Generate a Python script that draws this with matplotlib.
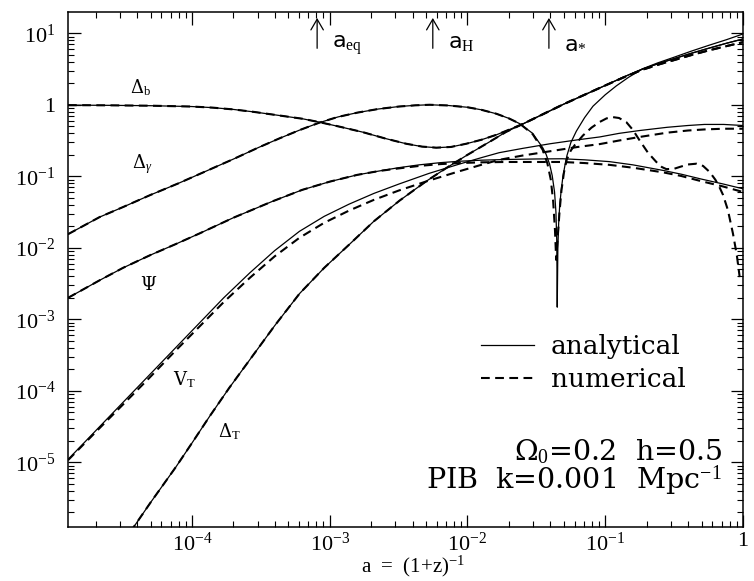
import matplotlib.pyplot as plt
import numpy as np
from matplotlib.ticker import FuncFormatter, LogLocator, NullFormatter

plt.rcParams["font.family"] = ["DejaVu Serif"]
plt.rcParams["mathtext.fontset"] = "custom"
plt.rcParams["mathtext.rm"] = "Liberation Serif"
plt.rcParams["mathtext.it"] = "Liberation Serif:italic"
plt.rcParams["mathtext.bf"] = "Liberation Serif:bold"

# values, as log10(a) and log10(quantity)
# Delta_b
db_la = [-4.90, -4.6, -4.3, -4.0, -3.85, -3.7, -3.55, -3.365, -3.2, -3.075,
         -2.92, -2.76, -2.6, -2.445, -2.33, -2.227, -2.12, -2.009, -1.9, -1.79,
         -1.7, -1.6, -1.45, -1.3, -1.15, -1.0, -0.87, -0.73, -0.6, -0.5,
         -0.375, -0.25, -0.12, 0.0]
db_ly = [-0.005, -0.008, -0.013, -0.025, -0.04, -0.065, -0.10, -0.15, -0.195, -0.243,
         -0.31, -0.383, -0.47, -0.545, -0.585, -0.60, -0.59, -0.545, -0.49, -0.42,
         -0.35, -0.27, -0.13, 0.01, 0.14, 0.27, 0.385, 0.50, 0.585, 0.645,
         0.72, 0.79, 0.86, 0.92]
db_num_ly = [-0.005, -0.008, -0.013, -0.025, -0.04, -0.065, -0.10, -0.15, -0.195, -0.243,
             -0.31, -0.383, -0.47, -0.545, -0.585, -0.60, -0.59, -0.545, -0.49, -0.42,
             -0.35, -0.27, -0.13, 0.01, 0.14, 0.27, 0.38, 0.49, 0.57, 0.625,
             0.695, 0.76, 0.82, 0.875]

# Delta_T (merges with Delta_b near a = 0.025)
dt_la = [-4.45, -4.3, -4.115, -4.0, -3.873, -3.73, -3.582, -3.4, -3.219, -3.04,
         -2.856, -2.68, -2.493, -2.30, -2.15, -2.0, -1.85, -1.72, -1.6, -1.45,
         -1.3, -1.15, -1.0, -0.87, -0.73, -0.6, -0.5, -0.375, -0.25, -0.12, 0.0]
dt_ly = [-5.98, -5.56, -5.06, -4.73, -4.36, -3.96, -3.57, -3.09, -2.64, -2.28,
         -1.95, -1.63, -1.34, -1.07, -0.88, -0.70, -0.53, -0.38, -0.27, -0.13,
         0.01, 0.14, 0.27, 0.385, 0.50, 0.585, 0.645, 0.72, 0.79, 0.86, 0.92]
dt_num_ly = [-5.98, -5.56, -5.06, -4.73, -4.36, -3.96, -3.57, -3.09, -2.64, -2.28,
             -1.95, -1.63, -1.34, -1.07, -0.88, -0.70, -0.53, -0.38, -0.27, -0.13,
             0.01, 0.14, 0.27, 0.38, 0.49, 0.57, 0.625, 0.695, 0.76, 0.82, 0.875]

# V_T
vt_la = [-4.90, -4.67, -4.5, -4.31, -4.13, -3.95, -3.77, -3.58, -3.4, -3.22,
         -3.04, -2.86, -2.68, -2.50, -2.28, -2.06, -1.9, -1.77, -1.6, -1.4,
         -1.2, -1.04, -0.9, -0.75, -0.55, -0.4, -0.28, -0.14, 0.0]
vt_ly = [-4.96, -4.50, -4.16, -3.78, -3.42, -3.06, -2.70, -2.35, -2.04, -1.77,
         -1.56, -1.39, -1.24, -1.11, -0.96, -0.83, -0.74, -0.67, -0.61, -0.545,
         -0.49, -0.45, -0.40, -0.36, -0.315, -0.29, -0.275, -0.275, -0.29]
vt_num_ly = [-4.97, -4.52, -4.19, -3.82, -3.46, -3.11, -2.76, -2.42, -2.12, -1.86,
             -1.65, -1.48, -1.33, -1.20, -1.06, -0.93, -0.84, -0.77, -0.71, -0.65,
             -0.59, -0.55, -0.50, -0.45, -0.39, -0.36, -0.345, -0.335, -0.335]

# Psi
psi_la = [-4.90, -4.67, -4.5, -4.3, -4.12, -3.946, -3.7, -3.415, -3.2, -3.0,
          -2.8, -2.638, -2.5, -2.35, -2.2, -2.06, -1.9, -1.72, -1.5, -1.31,
          -1.15, -0.97, -0.8, -0.58, -0.45, -0.3, -0.15, 0.0]
psi_ly = [-2.70, -2.454, -2.28, -2.10, -1.95, -1.80, -1.58, -1.35, -1.19, -1.075,
          -0.98, -0.925, -0.88, -0.84, -0.81, -0.79, -0.775, -0.765, -0.758, -0.755,
          -0.77, -0.795, -0.84, -0.918, -0.97, -1.04, -1.105, -1.175]
psi_num_ly = [-2.70, -2.454, -2.28, -2.10, -1.95, -1.80, -1.58, -1.35, -1.19, -1.075,
              -0.98, -0.925, -0.89, -0.855, -0.83, -0.815, -0.805, -0.80, -0.80, -0.80,
              -0.815, -0.84, -0.88, -0.945, -0.995, -1.07, -1.14, -1.22]

# Delta_gamma, analytical (|Delta_gamma|, zero crossing near a = 0.045)
dg_la = [-4.90, -4.67, -4.5, -4.3, -4.1, -3.9, -3.7, -3.52, -3.365, -3.22,
         -3.075, -2.94, -2.8, -2.65, -2.5, -2.38, -2.275, -2.14, -2.0, -1.9,
         -1.79, -1.7, -1.62, -1.527, -1.454, -1.43, -1.404, -1.385, -1.368, -1.358,
         -1.352, -1.3485, -1.344, -1.338, -1.331, -1.32, -1.307, -1.29, -1.278, -1.25,
         -1.21, -1.15, -1.089, -1.0, -0.919, -0.83, -0.726, -0.62, -0.5, -0.375,
         -0.25, -0.12, 0.0]
dg_ly = [-1.81, -1.57, -1.43, -1.26, -1.10, -0.93, -0.76, -0.60, -0.47, -0.355,
         -0.25, -0.17, -0.11, -0.06, -0.025, -0.008, 0.0, -0.01, -0.035, -0.07,
         -0.126, -0.19, -0.265, -0.40, -0.60, -0.69, -0.83, -0.99, -1.22, -1.50,
         -1.9, -2.83, -2.0, -1.65, -1.42, -1.20, -1.0, -0.82, -0.71, -0.53,
         -0.37, -0.18, -0.02, 0.14, 0.265, 0.385, 0.505, 0.585, 0.665, 0.75,
         0.83, 0.91, 0.99]

# Delta_gamma, numerical
dgn_la = [-4.90, -4.67, -4.5, -4.3, -4.1, -3.9, -3.7, -3.52, -3.365, -3.22,
          -3.075, -2.94, -2.8, -2.65, -2.5, -2.38, -2.275, -2.14, -2.0, -1.9,
          -1.79, -1.7, -1.62, -1.527, -1.454, -1.42, -1.395, -1.378, -1.365, -1.356,
          -1.345, -1.332, -1.318, -1.30, -1.28, -1.25, -1.22, -1.162, -1.1, -1.04,
          -0.99, -0.944, -0.9, -0.847, -0.8, -0.75, -0.69, -0.629, -0.59, -0.556,
          -0.50, -0.46, -0.40, -0.338, -0.29, -0.242, -0.2, -0.169, -0.145, -0.11,
          -0.073, -0.045, -0.024]
dgn_ly = [-1.81, -1.57, -1.43, -1.26, -1.10, -0.93, -0.76, -0.60, -0.47, -0.355,
          -0.25, -0.17, -0.11, -0.06, -0.025, -0.008, 0.0, -0.01, -0.035, -0.07,
          -0.126, -0.19, -0.265, -0.41, -0.63, -0.82, -1.05, -1.35, -1.75, -2.17,
          -1.85, -1.5, -1.2, -0.95, -0.77, -0.64, -0.56, -0.43, -0.32, -0.24,
          -0.19, -0.173, -0.185, -0.243, -0.35, -0.50, -0.67, -0.80, -0.87, -0.90,
          -0.895, -0.87, -0.835, -0.824, -0.855, -0.94, -1.05, -1.16, -1.26, -1.47,
          -1.80, -2.1, -2.41]

# epochs marked with arrows
epoch_a = [8.1e-4, 5.6e-3, 3.9e-2]
epoch_labels = [r"a$_{\mathrm{eq}}$", r"a$_{\mathrm{H}}$", r"a$_{*}$"]

# curve labels, in axes fraction
curve_labels = [r"Δ$_{\mathrm{b}}$", r"Δ$_{\gamma}$", "Ψ", r"V$_{\mathrm{T}}$", r"Δ$_{\mathrm{T}}$"]
curve_label_x = [0.0919, 0.0948, 0.1067, 0.156, 0.2222]
curve_label_y = [0.843, 0.697, 0.460, 0.2755, 0.1744]

fig = plt.figure(figsize=(7.54, 5.81), dpi=100)
ax = fig.add_axes((68 / 754, 54.3 / 581, 675 / 754, 514.4 / 581))

SOLID = dict(color="black", lw=0.9)
DASHED = dict(color="black", lw=1.5, dashes=(4.2, 2.6))


def p(la, ly, **kw):
    return ax.plot(10.0 ** np.array(la), 10.0 ** np.array(ly), **kw)[0]


l_an = p(db_la, db_ly, **SOLID)
l_nu = p(db_la, db_num_ly, **DASHED)
p(dt_la, dt_ly, **SOLID)
p(dt_la, dt_num_ly, **DASHED)
p(vt_la, vt_ly, **SOLID)
p(vt_la, vt_num_ly, **DASHED)
p(psi_la, psi_ly, **SOLID)
p(psi_la, psi_num_ly, **DASHED)
p(dg_la, dg_ly, **SOLID)
p(dgn_la, dgn_ly, **DASHED)

ax.set_xscale("log")
ax.set_yscale("log")
ax.set_xlim(10 ** -4.9, 1.0)
ax.set_ylim(10 ** -5.9, 10 ** 1.293)

fmt = FuncFormatter(lambda v, pos: "1" if abs(v - 1) < 1e-9 else r"$10^{%d}$" % round(np.log10(v)))
for axis in (ax.xaxis, ax.yaxis):
    axis.set_major_locator(LogLocator(base=10, numticks=20))
    axis.set_major_formatter(fmt)
    axis.set_minor_locator(LogLocator(base=10, subs=np.arange(2, 10), numticks=50))
    axis.set_minor_formatter(NullFormatter())
    axis.get_offset_text().set_visible(False)
ax.tick_params(which="both", direction="in", top=True, right=True, labelsize=16)
ax.tick_params(which="major", length=9, width=0.9)
ax.tick_params(which="minor", length=4.5, width=0.8)
ax.tick_params(axis="x", which="major", pad=4)
ax.tick_params(axis="y", which="major", pad=9)
for lab in ax.get_xticklabels() + ax.get_yticklabels():
    lab.set_family("Liberation Serif")
for s in ax.spines.values():
    s.set_linewidth(1.1)

ax.set_xlabel(r"a  =  (1+z)$^{-1}$", fontsize=15, family="Liberation Serif")
ax.xaxis.set_label_coords(0.511, -0.052)
ax.xaxis.label.set_va("top")

# epoch arrows
blend = ax.get_xaxis_transform()
for a, lab in zip(epoch_a, epoch_labels):
    ax.annotate("", xy=(a, 0.989), xytext=(a, 0.930), xycoords=blend, textcoords=blend,
                arrowprops=dict(arrowstyle="->,head_length=0.55,head_width=0.32",
                                lw=0.9, color="black", shrinkA=0, shrinkB=0,
                                mutation_scale=14))
    ax.annotate(lab, xy=(a, 0.9306), xycoords=blend, xytext=(11, 0),
                textcoords="offset points", va="baseline", ha="left",
                fontsize=16, family="DejaVu Sans")

for txt, x, y in zip(curve_labels, curve_label_x, curve_label_y):
    ax.text(x, y, txt, transform=ax.transAxes, fontsize=13, va="baseline", ha="left")

ax.legend([l_an, l_nu], ["analytical", "numerical"], loc="upper left",
          bbox_to_anchor=(481 / 754, (581 - 334) / 581), bbox_transform=fig.transFigure,
          frameon=False, fontsize=19, handlelength=2.0, handletextpad=0.65,
          labelspacing=0.3, borderpad=0, borderaxespad=0)

ax.text(0.969, 0.1297, r"Ω$_0$=0.2  h=0.5", transform=ax.transAxes,
        fontsize=20.5, ha="right", va="baseline")
ax.text(0.969, 0.0747, r"PIB  k=0.001  Mpc$^{-1}$", transform=ax.transAxes,
        fontsize=20.5, ha="right", va="baseline")

fig.savefig("out.png", dpi=100)
